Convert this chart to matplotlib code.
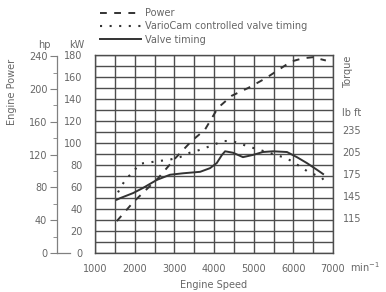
import matplotlib
matplotlib.use('Agg')
import matplotlib.pyplot as plt
from matplotlib.ticker import MultipleLocator, FixedLocator
from matplotlib.transforms import offset_copy

# values
power_rpm = [1550, 1960, 2590, 3020, 3440, 3770, 4100, 4450, 4860, 5310, 5690, 5940, 6240, 6490, 6820]
power_kw = [29, 46, 68, 86, 102, 112, 132, 143, 150, 159, 168, 174, 177, 178, 175]

variocam_rpm = [1580, 1680, 1810, 1930, 2130, 2390, 2640, 2840, 3140, 3390, 3650, 3900,
                4230, 4450, 4730, 4960, 5330, 5740, 5910, 6240, 6370, 6720, 6800]
variocam_lbft = [150, 160, 170, 176, 189, 191, 193, 194, 198, 204, 208, 213,
                 220, 220, 215, 211, 205, 198, 194, 183, 178, 170, 164]

valve_rpm = [1550, 1630, 1960, 2210, 2560, 2890, 3220, 3650, 3900, 4070, 4200, 4280,
             4480, 4730, 4980, 5230, 5490, 5840, 6090, 6340, 6590, 6750]
valve_lbft = [140, 142, 149, 156, 167, 174, 176, 178, 183, 190, 201, 206,
              204, 198, 201, 205, 206, 205, 198, 190, 181, 175]

speed_ticks = [1000, 2000, 3000, 4000, 5000, 6000, 7000]
kw_ticks = [0, 20, 40, 60, 80, 100, 120, 140, 160, 180]
hp_ticks = [0, 40, 80, 120, 160, 200, 240]
torque_ticks = [115, 145, 175, 205, 235]

TEXT = '#666666'
GRID = '#4d4d4d'
CURVE = '#333333'
FS = 7

W, H = 386, 292
fig = plt.figure(figsize=(W / 100, H / 100), dpi=100)
fig.patch.set_facecolor('white')

left, right, bottom, top = 95, 333, 253, 55
ax = fig.add_axes([left / W, 1 - bottom / H, (right - left) / W, (bottom - top) / H])
ax.set_xlim(1000, 7000)
ax.set_ylim(0, 180)
ax.xaxis.set_major_locator(FixedLocator(speed_ticks))
ax.xaxis.set_minor_locator(MultipleLocator(500))
ax.yaxis.set_major_locator(FixedLocator(kw_ticks))
ax.yaxis.set_minor_locator(MultipleLocator(10))
ax.grid(True, which='both', color=GRID, linewidth=1.0)
ax.set_axisbelow(True)
for s in ax.spines.values():
    s.set_color(GRID)
    s.set_linewidth(1.0)
ax.tick_params(which='both', length=0, labelsize=FS, labelcolor=TEXT)
ax.tick_params(axis='x', pad=8)
ax.tick_params(axis='y', pad=9)
ax.set_xlabel('Engine Speed', fontsize=FS, color=TEXT, labelpad=4)

ax.plot(power_rpm, power_kw, color=CURVE, lw=1.4, linestyle=(0, (3.5, 3.8)),
        label='Power')

# torque on its own scale, right side
ax2 = ax.twinx()
ax2.set_ylim(67.3, 337.3)
ax2.yaxis.set_major_locator(FixedLocator(torque_ticks))
ax2.tick_params(length=0, labelsize=FS, labelcolor=TEXT, pad=7)
for s in ax2.spines.values():
    s.set_visible(False)
l2, = ax2.plot(variocam_rpm, variocam_lbft, color=CURVE, lw=1.5, linestyle=(0, (1, 3.6)),
               label='VarioCam controlled valve timing')
l3, = ax2.plot(valve_rpm, valve_lbft, color=CURVE, lw=1.4, label='Valve timing')

handles = [ax.get_lines()[0], l2, l3]
fig.legend(handles=handles, loc='upper left', bbox_to_anchor=(100 / W, 1 - 8 / H),
           frameon=False, fontsize=FS, handlelength=4.2, handletextpad=0.4,
           labelspacing=0.35, borderpad=0, borderaxespad=0, labelcolor=TEXT)

# horsepower scale on the far left
ax_hp = fig.add_axes([57 / W, 1 - bottom / H, 13 / W, (bottom - top) / H])
ax_hp.set_ylim(0, 180 * 1.341)
ax_hp.patch.set_visible(False)
ax_hp.yaxis.set_major_locator(FixedLocator(hp_ticks))
ax_hp.yaxis.set_minor_locator(MultipleLocator(20))
ax_hp.set_xticks([])
ax_hp.spines['top'].set_visible(False)
ax_hp.spines['right'].set_visible(False)
ax_hp.spines['left'].set_bounds(0, 240)
for s in ('left', 'bottom'):
    ax_hp.spines[s].set_color('#808080')
    ax_hp.spines[s].set_linewidth(0.9)
ax_hp.tick_params(axis='y', which='major', length=5, color='#808080', labelsize=FS,
                  labelcolor=TEXT, pad=2)
ax_hp.tick_params(axis='y', which='minor', length=3, color='#808080')

# unit labels
fig.text(44 / W, 1 - 45 / H, 'hp', fontsize=FS, color=TEXT, ha='center', va='center')
fig.text(77 / W, 1 - 45 / H, 'kW', fontsize=FS, color=TEXT, ha='center', va='center')
fig.text(12 / W, 1 - 92 / H, 'Engine Power', fontsize=FS, color=TEXT, rotation=90,
         ha='center', va='center')
fig.text(348 / W, 1 - 72 / H, 'Torque', fontsize=FS, color=TEXT, rotation=90,
         ha='center', va='center')
fig.text(342 / W, 1 - 113 / H, 'lb ft', fontsize=FS, color=TEXT, ha='left', va='center')
ax.text(1.0, 0.0, 'min$^{-1}$', fontsize=FS, color=TEXT, ha='left', va='top',
        transform=offset_copy(ax.transAxes, fig=fig, x=12, y=-5.5, units='points'))

fig.savefig('out.png', dpi=100, facecolor='white')
